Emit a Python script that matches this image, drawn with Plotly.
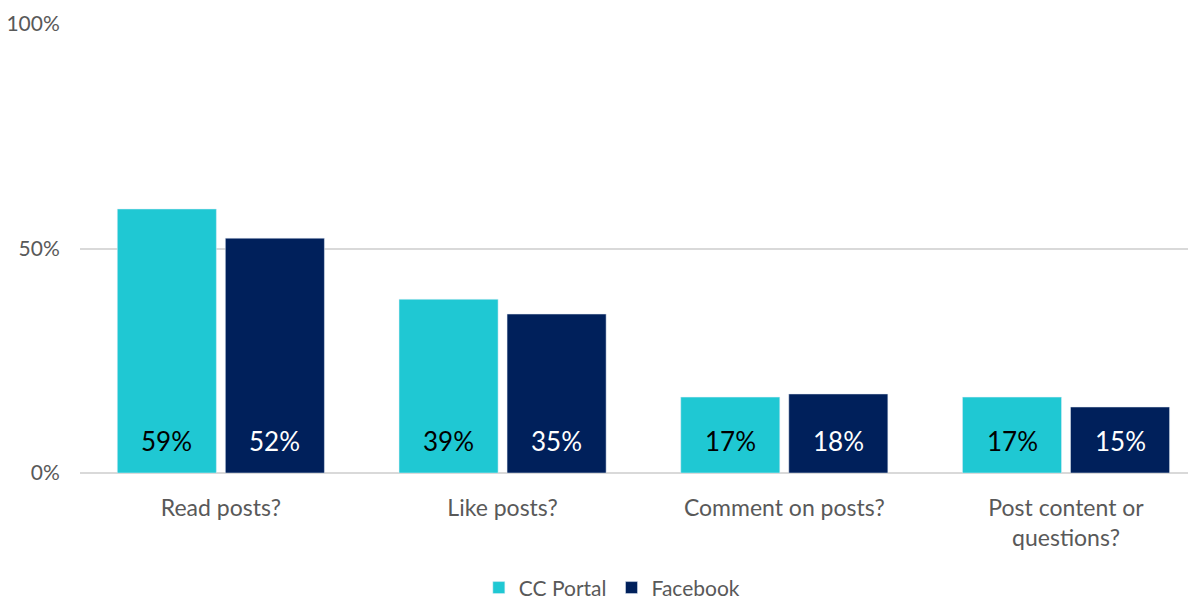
import plotly.graph_objects as go

categories = ["Read posts?", "Like posts?", "Comment on posts?", "Post content or<br>questions?"]
cc_portal = [0.588, 0.387, 0.169, 0.169]
facebook = [0.523, 0.354, 0.176, 0.147]
y_ticks = [0, 0.5, 1.0]
y_tick_labels = ["0%", "50%", "100%"]

CYAN = "#1FC8D3"
NAVY = "#00205B"
GRAY = "#595959"
FONT = "Lato, Carlito, Calibri, sans-serif"

fig = go.Figure()
fig.add_trace(go.Bar(name="CC Portal", x=categories, y=cc_portal, marker_color=CYAN,
                     hoverinfo="skip"))
fig.add_trace(go.Bar(name="Facebook", x=categories, y=facebook, marker_color=NAVY,
                     hoverinfo="skip"))

annotations = []
for i, c in enumerate(categories):
    for vals, shift, col in ((cc_portal, -54, "black"), (facebook, 54, "white")):
        annotations.append(dict(
            x=c, y=0, xref="x", yref="y", xshift=shift, yshift=14,
            yanchor="bottom", showarrow=False,
            text=f"{round(vals[i]*100)}%",
            font=dict(family=FONT, size=26, color=col)))

fig.update_layout(
    width=1188, height=603,
    margin=dict(l=80, r=0, t=24, b=130, autoexpand=False),
    paper_bgcolor="white", plot_bgcolor="white",
    barmode="group", bargap=0.233, bargroupgap=0.083,
    font=dict(family=FONT, size=23, color=GRAY),
    showlegend=True,
    legend=dict(orientation="h", x=0.48, xanchor="center",
                yref="container", y=0.025, yanchor="middle",
                font=dict(family=FONT, size=21, color=GRAY),
                traceorder="normal"),
    annotations=annotations,
    xaxis=dict(range=[-0.5, 3.433], showgrid=False, showline=False,
               ticks="outside", ticklen=14, tickcolor="rgba(0,0,0,0)", automargin=False,
               tickfont=dict(family=FONT, size=23, color=GRAY)),
    yaxis=dict(range=[0, 1.0], tickvals=y_ticks, ticktext=y_tick_labels,
               showgrid=True, gridcolor="#D9D9D9", gridwidth=1.5,
               zeroline=True, zerolinecolor="#D9D9D9", zerolinewidth=1.5,
               ticks="outside", ticklen=15, tickcolor="rgba(0,0,0,0)", automargin=False,
               tickfont=dict(family=FONT, size=21, color=GRAY)),
)

fig.write_html("out.html")
